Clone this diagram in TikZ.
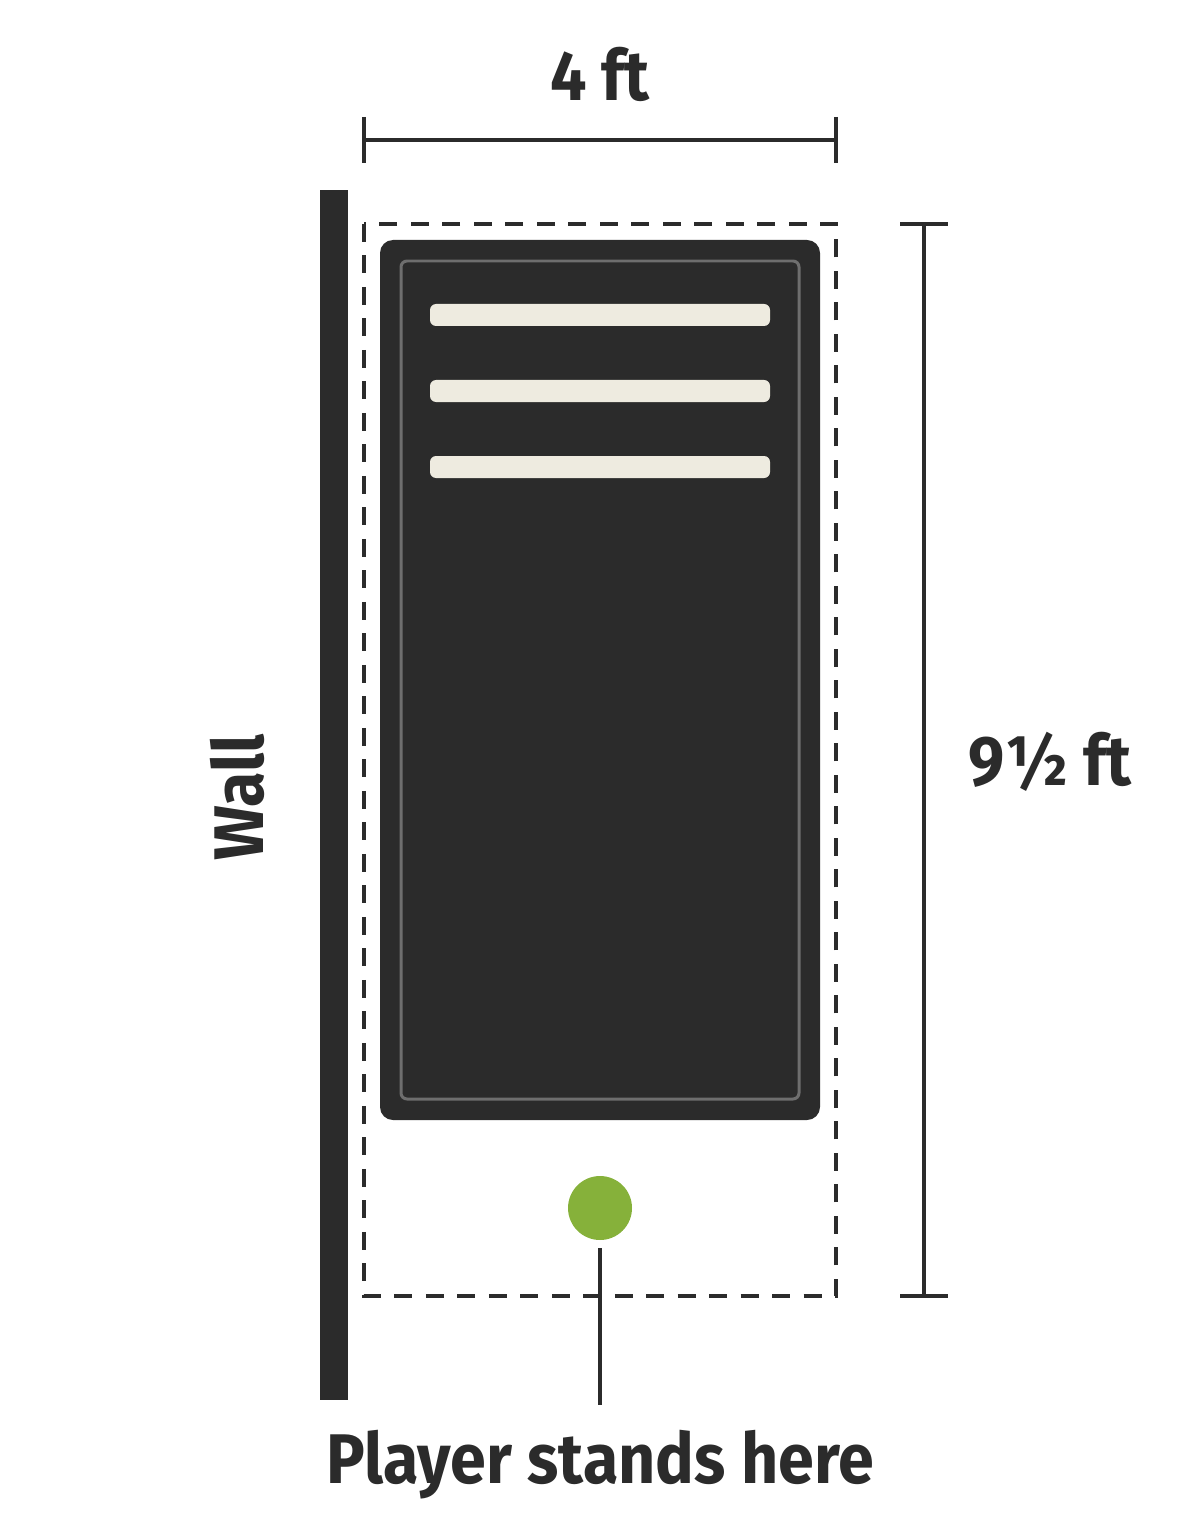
\documentclass[tikz,border=0pt]{standalone}
\usepackage{fontspec}
\setmainfont{Fira Sans}[BoldFeatures={FakeStretch=0.92}]
\definecolor{ink}{HTML}{2B2B2B}
\definecolor{rim}{HTML}{6E6E6E}
\definecolor{chalk}{HTML}{EEEBE0}
\definecolor{spot}{HTML}{86B13A}
\begin{document}
\begin{tikzpicture}[x=0.02cm, y=-0.02cm]
    \tikzstyle{label} = [text=ink, font=\fontsize{40}{44}\selectfont\bfseries, inner sep=0pt]
    \tikzstyle{dim} = [draw=ink, line width=2.4pt]
    \tikzstyle{area} = [draw=ink, line width=2.8pt, dash pattern=on 0.36cm off 0.27cm]
    \tikzstyle{stripe} = [fill=chalk, rounded corners=0.12cm]
    \useasboundingbox (0,0) rectangle (1200,1540);

    % wall
    \fill [ink] (320,190) rectangle (348,1400);
    \node (wall) [label, rotate=90] at (237,797) {Wall};

    % play area and board
    \draw [area] (364,224) rectangle (836,1296);
    \fill [ink, rounded corners=0.26cm] (380,240) rectangle (820,1120);
    \draw [rim, line width=1.7pt, rounded corners=0.12cm] (401,261) rectangle (799,1099);
    \foreach \y in {315,391,467}
        \fill [stripe] (430,\y-11) rectangle (770,\y+11);

    % width
    \node (width) [label] at (600,74) {4 ft};
    \draw [dim] (364,140) -- (836,140);
    \draw [dim] (364,117) -- (364,163);
    \draw [dim] (836,117) -- (836,163);

    % length
    \node (length) [label] at (1050,762) {9½ ft};
    \draw [dim] (924,224) -- (924,1296);
    \draw [dim] (900,224) -- (948,224);
    \draw [dim] (900,1296) -- (948,1296);

    % player
    \node (dot) [circle, fill=spot, minimum size=1.28cm, inner sep=0pt] at (600,1208) {};
    \node (player) [label] at (600,1465) {Player stands here};
    \draw [dim, shorten <=0.16cm, shorten >=0.5cm] (dot.south) -- (player.north);
\end{tikzpicture}
\end{document}
